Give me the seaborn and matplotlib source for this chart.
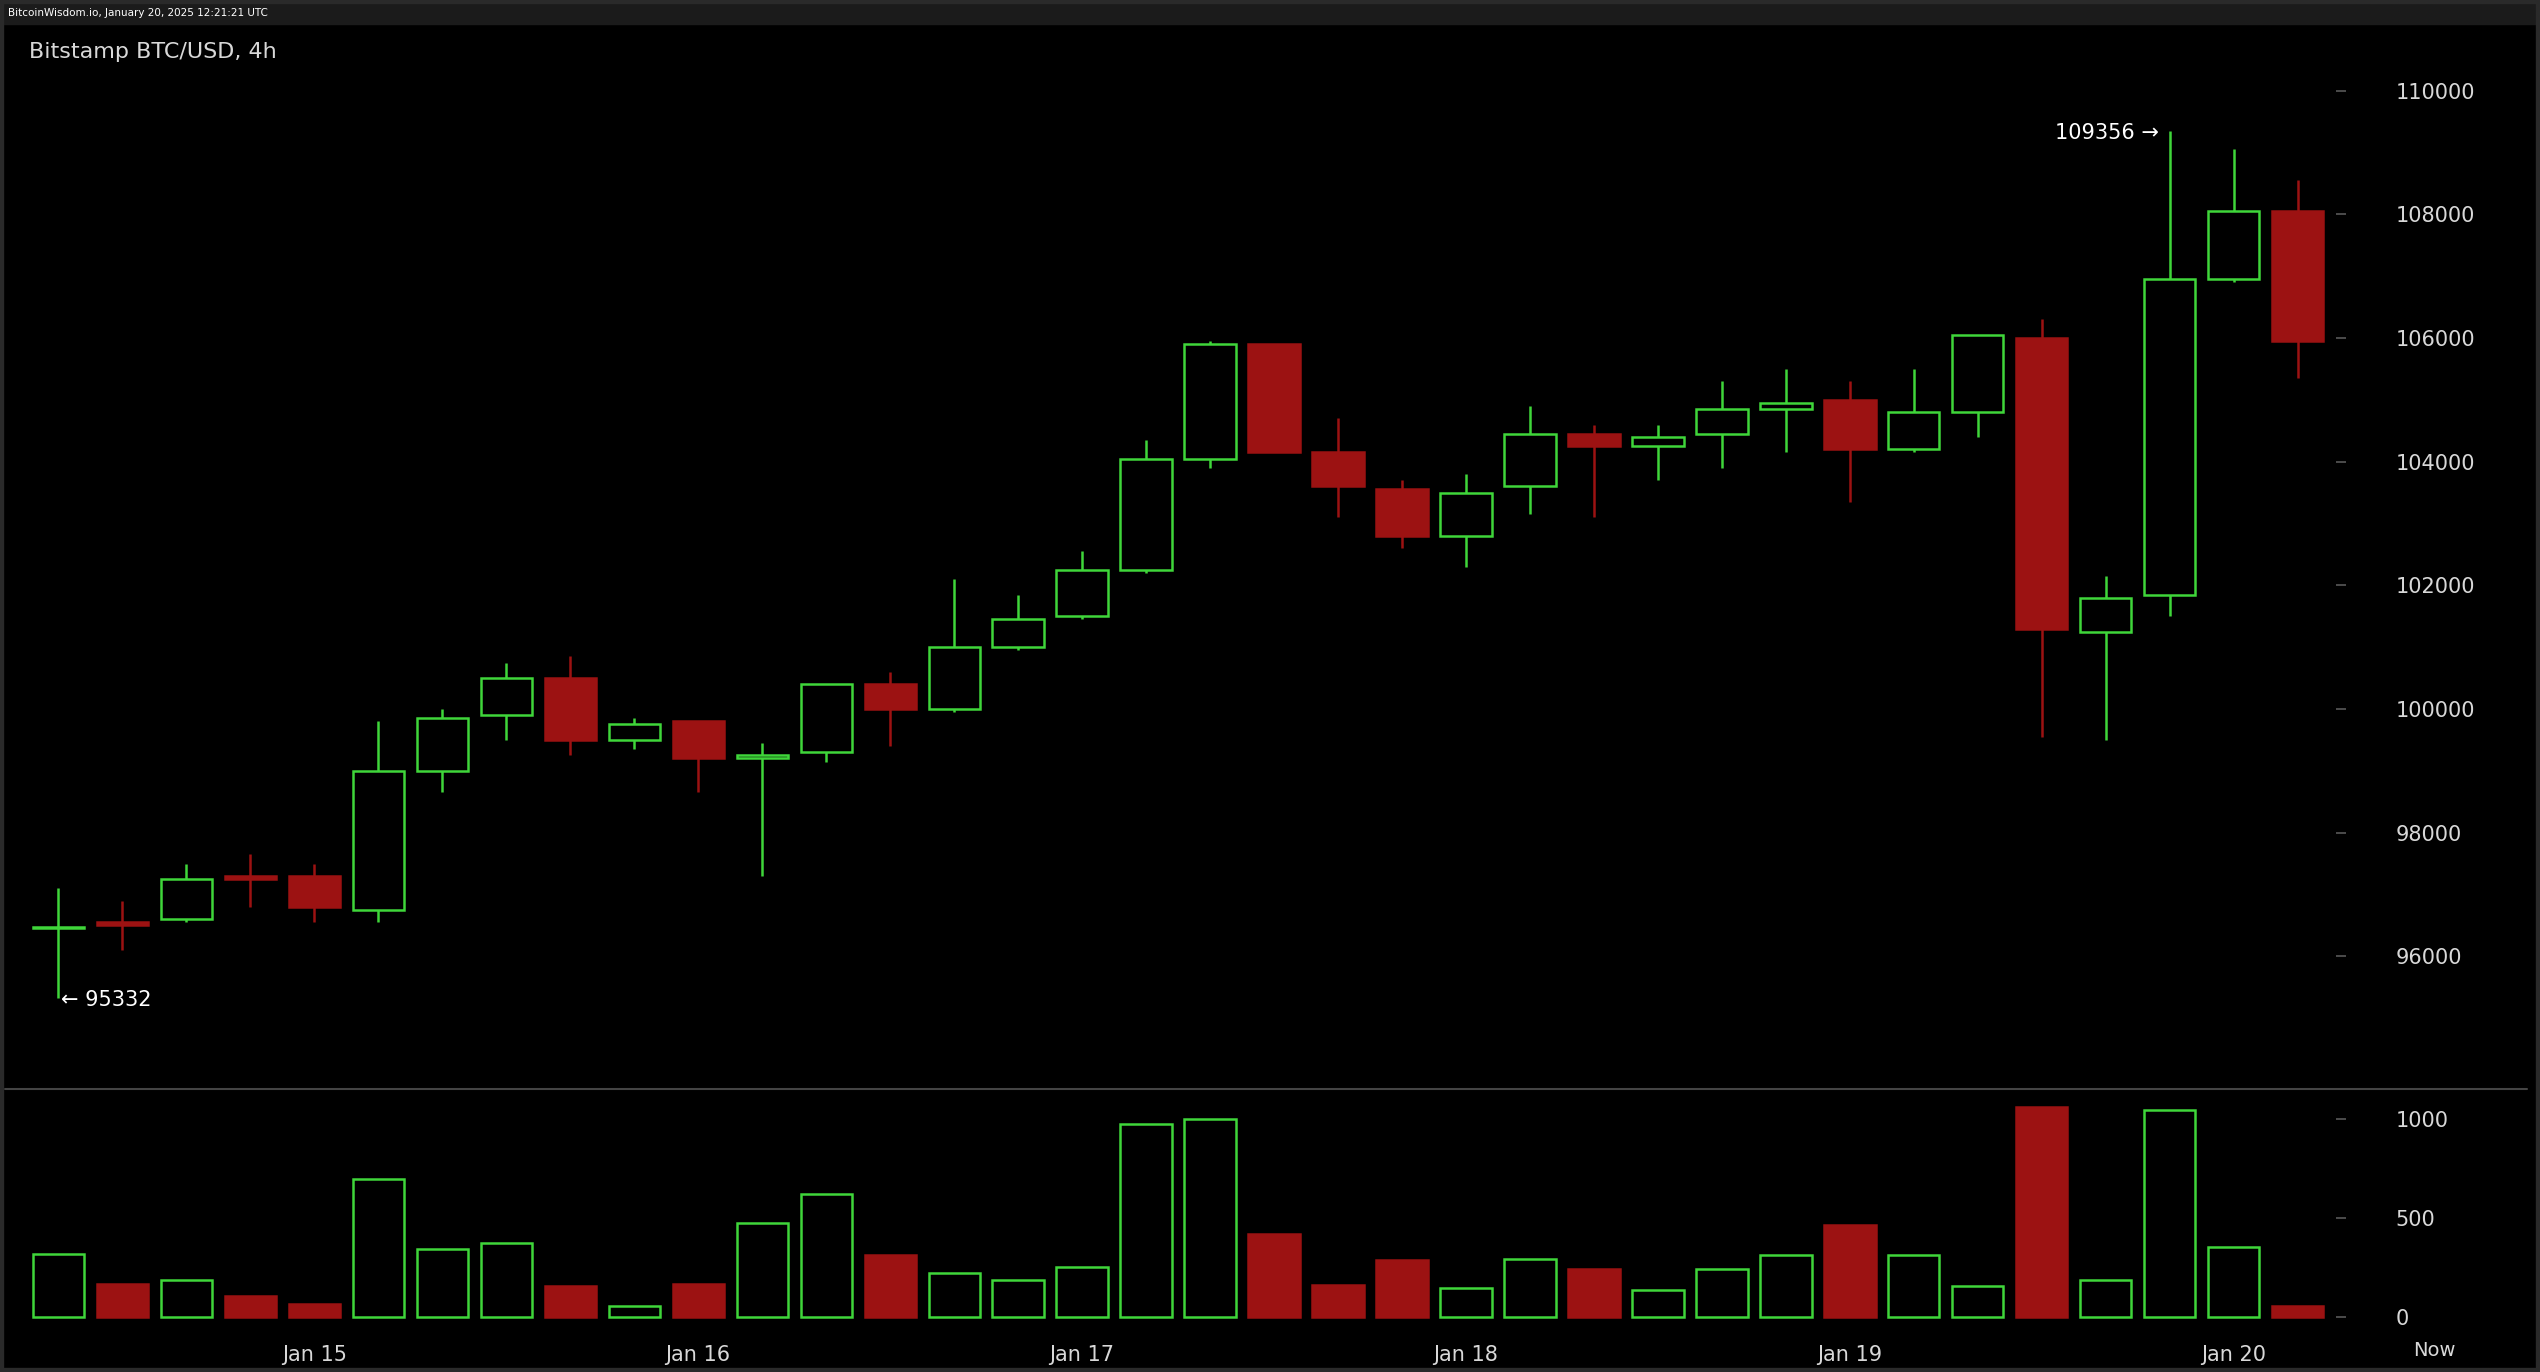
import matplotlib
matplotlib.use("Agg")
import matplotlib.pyplot as plt
import seaborn as sns
import numpy as np
import pandas as pd

# 4h candles, Bitstamp BTC/USD, starting Jan 14 08:00 UTC
opens = [96450, 96550, 96600, 97300, 97300, 96750, 99000, 99900, 100500, 99500,
         99800, 99200, 99300, 100400, 100000, 101000, 101500, 102250, 104050, 105900,
         104150, 103550, 102800, 103600, 104450, 104250, 104450, 104850, 105000, 104200,
         104800, 106000, 101250, 101850, 106950, 108050]
closes = [96480, 96500, 97250, 97250, 96800, 99000, 99850, 100500, 99500, 99750,
          99200, 99250, 100400, 100000, 101000, 101450, 102250, 104050, 105900, 104150,
          103600, 102800, 103500, 104450, 104250, 104400, 104850, 104950, 104200, 104800,
          106050, 101300, 101800, 106950, 108050, 105950]
highs = [97100, 96900, 97500, 97650, 97500, 99800, 100000, 100750, 100850, 99850,
         99800, 99450, 100400, 100600, 102100, 101850, 102550, 104350, 105950, 105900,
         104700, 103700, 103800, 104900, 104600, 104600, 105300, 105500, 105300, 105500,
         106050, 106300, 102150, 109356, 109050, 108550]
lows = [95332, 96100, 96550, 96800, 96550, 96550, 98650, 99500, 99250, 99350,
        98650, 97300, 99150, 99400, 99950, 100950, 101450, 102200, 103900, 104150,
        103100, 102600, 102300, 103150, 103100, 103700, 103900, 104150, 103350, 104150,
        104400, 99550, 99500, 101500, 106900, 105350]
volumes = [320, 165, 185, 105, 65, 700, 345, 375, 155, 55,
           165, 475, 620, 315, 225, 185, 255, 975, 1000, 420,
           160, 290, 145, 295, 245, 135, 245, 315, 465, 315,
           155, 1065, 185, 1045, 355, 55]
price_ticks = [96000, 98000, 100000, 102000, 104000, 106000, 108000, 110000]
vol_ticks = [0, 500, 1000]
day_labels = ["Jan 15", "Jan 16", "Jan 17", "Jan 18", "Jan 19", "Jan 20"]
day_index = [4, 10, 16, 22, 28, 34]

df = pd.DataFrame({"open": opens, "close": closes, "high": highs, "low": lows, "volume": volumes})
df["idx"] = np.arange(len(df))
df["up"] = df["close"] >= df["open"]

sns.set_theme(style="dark")
plt.rcParams["font.family"] = ["DejaVu Sans"]

GREEN = "#3fd63a"
RED = "#9c1212"
TXT = "#d8d8d8"

fig = plt.figure(figsize=(25.4, 13.72), dpi=100, facecolor="#000000")
W, H = 1568, 847
R = 1448
ax = fig.add_axes([3 / W, 1 - 672 / H, (R - 3) / W, (672 - 15) / H], facecolor="#000000")
axv = fig.add_axes([3 / W, 1 - 820 / H, (R - 3) / W, (820 - 672) / H], facecolor="#000000", sharex=ax)

# top strip, frame and panel divider
fig.patches.append(plt.Rectangle((0, 1 - 15 / H), 1, 15 / H, transform=fig.transFigure, color="#1b1b1b", zorder=0))
fig.patches.append(plt.Rectangle((0, 0), 1, 1, transform=fig.transFigure, fill=False, ec="#2a2a2a", lw=6, zorder=5))
fig.lines.append(plt.Line2D([3 / W, 1560 / W], [1 - 672 / H] * 2, transform=fig.transFigure, color="#444444", lw=1.5))
fig.text(5 / W, 1 - 8 / H, "BitcoinWisdom.io, January 20, 2025 12:21:21 UTC", color="white", fontsize=7.5, va="center")

bw = 0.8
for _, r in df.iterrows():
    c = GREEN if r["up"] else RED
    lo, hi = min(r["open"], r["close"]), max(r["open"], r["close"])
    ax.vlines(r["idx"], r["low"], r["high"], color=c, lw=1.8, zorder=1)
    h = max(hi - lo, 25)
    if r["up"]:
        ax.bar(r["idx"], h, bottom=lo, width=bw, facecolor="#000000", edgecolor=GREEN, lw=1.8, zorder=2)
    else:
        ax.bar(r["idx"], h, bottom=lo, width=bw, facecolor=RED, edgecolor=RED, lw=1.8, zorder=2)

for _, r in df.iterrows():
    if r["up"]:
        axv.bar(r["idx"], r["volume"], width=bw, facecolor="#000000", edgecolor=GREEN, lw=1.8)
    else:
        axv.bar(r["idx"], r["volume"], width=bw, facecolor=RED, edgecolor=RED, lw=1.8)

ax.set_xlim(-0.835, (R - 36) / 39.5)
ax.set_ylim(93860, 111075)
axv.set_ylim(-57, 1156)

for a, ticks in ((ax, price_ticks), (axv, vol_ticks)):
    a.grid(False)
    for s in a.spines.values():
        s.set_visible(False)
    a.yaxis.tick_right()
    a.set_yticks(ticks)
    a.set_yticklabels([str(t) for t in ticks], color=TXT, fontsize=15)
    a.tick_params(axis="y", direction="in", length=7, color="#555555", pad=36)
    for lab in a.get_yticklabels():
        lab.set_horizontalalignment("left")
ax.tick_params(axis="x", bottom=False, labelbottom=False)
axv.set_xticks(day_index)
axv.set_xticklabels(day_labels, color=TXT, fontsize=15)
axv.tick_params(axis="x", length=0, pad=12)
fig.text(1503 / W, 1 - 834 / H, "Now", color=TXT, fontsize=14, ha="center", va="center")

fig.text(18 / W, 1 - 32 / H, "Bitstamp BTC/USD, 4h", color=TXT, fontsize=16, va="center")

imax = int(np.argmax(highs))
imin = int(np.argmin(lows))
ax.annotate(f"{highs[imax]} \u2192", (imax, highs[imax]), xytext=(-8, -2), textcoords="offset points",
            ha="right", va="center", color="white", fontsize=15)
ax.annotate(f"\u2190 {lows[imin]}", (imin, lows[imin]), xytext=(2, -2), textcoords="offset points",
            ha="left", va="center", color="white", fontsize=15)

fig.savefig("out.png", dpi=100, facecolor=fig.get_facecolor())
